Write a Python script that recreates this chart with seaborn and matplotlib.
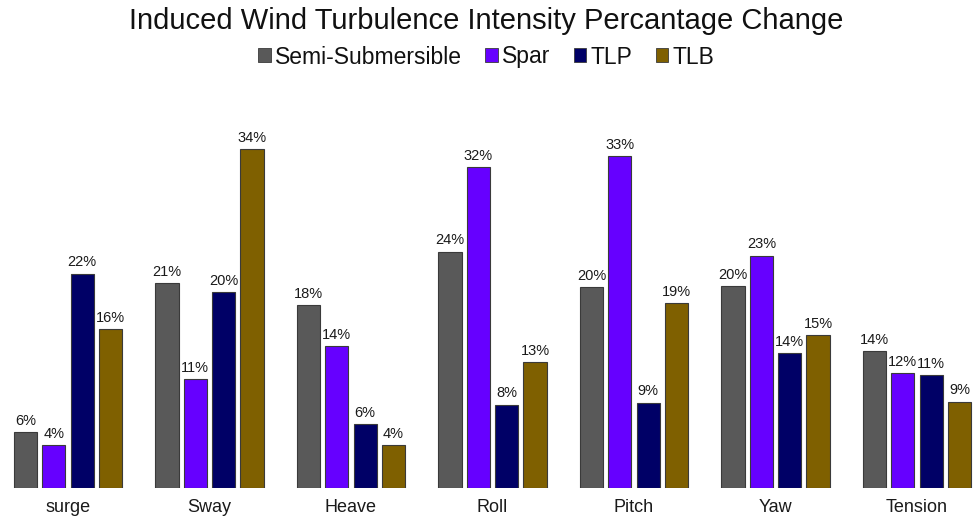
import matplotlib
matplotlib.use("Agg")
import matplotlib.pyplot as plt
from matplotlib.patches import Patch
import pandas as pd
import seaborn as sns

# Motion / load responses and platform types
categories = ["surge", "Sway", "Heave", "Roll", "Pitch", "Yaw", "Tension"]
platforms = ["Semi-Submersible", "Spar", "TLP", "TLB"]

# Percentage change in each response caused by wind turbulence
semi_sub = [5.6, 20.6, 18.4, 23.8, 20.2, 20.3, 13.8]
spar = [4.3, 11.0, 14.3, 32.3, 33.4, 23.4, 11.6]
tlp = [21.6, 19.7, 6.4, 8.4, 8.6, 13.6, 11.4]
tlb = [16.0, 34.1, 4.3, 12.7, 18.6, 15.4, 8.7]

colors = ["#595959", "#6600FF", "#000066", "#7F6000"]

series = [semi_sub, spar, tlp, tlb]
df = pd.DataFrame(
    [
        {"Response": c, "Platform": p, "Change": v}
        for p, vals in zip(platforms, series)
        for c, v in zip(categories, vals)
    ]
)

sns.set_theme(style="white")
plt.rcParams["font.family"] = ["Liberation Sans", "DejaVu Sans"]

W, H = 973, 517
fig = plt.figure(figsize=(W / 100, H / 100), dpi=100)
fig.patch.set_facecolor("white")

# axes: baseline at y=488px, 9.93 px per percent
base_px = 488
ppu = 9.93
ymax = 40
ax_h = ymax * ppu
ax = fig.add_axes([0, (H - base_px) / H, 1, ax_h / H])

sns.barplot(
    data=df,
    x="Response",
    y="Change",
    hue="Platform",
    order=categories,
    hue_order=platforms,
    palette=colors,
    width=0.8,
    gap=0.18,
    edgecolor="#3a3a3a",
    linewidth=0.8,
    saturation=1,
    legend=False,
    ax=ax,
)

for cont in ax.containers:
    ax.bar_label(cont, fmt="{:.0f}%", padding=3, fontsize=10.5, color="#1a1a1a")

ax.set_xlim(-68 / 141.5, (W - 68) / 141.5)
ax.set_ylim(0, ymax)
ax.set_xlabel("")
ax.set_ylabel("")
ax.set_yticks([])
for s in ax.spines.values():
    s.set_visible(False)
ax.tick_params(axis="x", length=0, pad=8, labelsize=13, labelcolor="#1a1a1a")
ax.set_facecolor("none")

fig.text(0.5, (H - 21) / H, "Induced Wind Turbulence Intensity Percantage Change",
         ha="center", va="center", fontsize=21, color="#111111")

handles = [Patch(facecolor=c, edgecolor="#3a3a3a", linewidth=0.6) for c in colors]
fig.legend(
    handles, platforms,
    loc="center", bbox_to_anchor=(0.5, (H - 57) / H),
    ncol=4, frameon=False, fontsize=16.5,
    handlelength=0.55, handleheight=0.55, handletextpad=0.2,
    columnspacing=1.0, borderaxespad=0,
    labelcolor="#111111",
)

fig.savefig("out.png", dpi=100, facecolor="white")
